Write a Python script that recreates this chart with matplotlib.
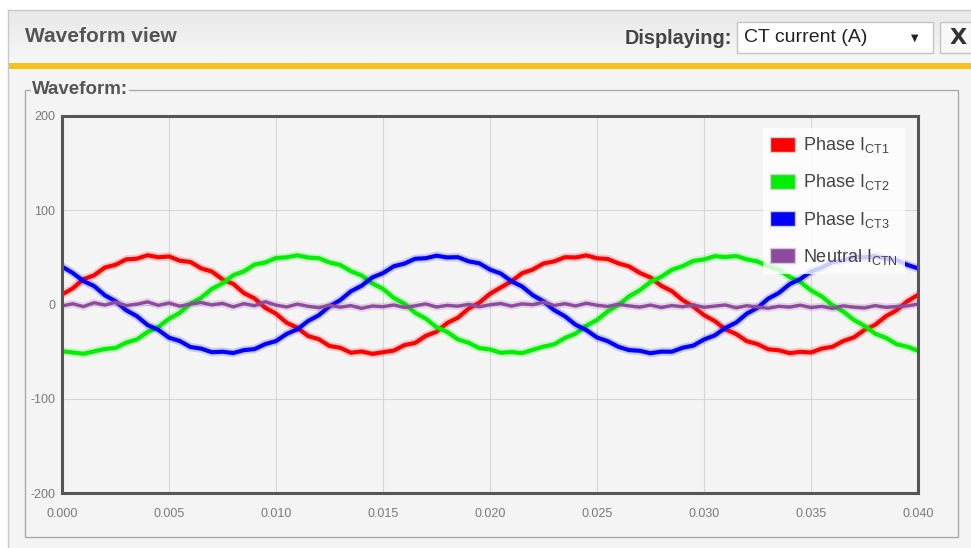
import numpy as np
import matplotlib
matplotlib.use('Agg')
import matplotlib.pyplot as plt
from matplotlib.patches import Rectangle, Patch
from matplotlib import font_manager
import matplotlib.patheffects as pe

# sample times (s), one sample every 0.5 ms
t = np.linspace(0.0, 0.040, 81)

# CT currents (A)
i_ct1 = [10.6, 17.1, 26.8, 31.0, 39.2, 42.1, 47.9, 48.6, 52.3, 50.1, 51.0, 46.5, 45.1, 38.4, 35.0, 26.6, 21.9, 12.1, 6.4, -3.5,
         -9.8, -19.4, -24.7, -33.5, -36.8, -44.0, -45.9, -51.2, -49.8, -52.4, -50.6, -48.9, -43.1, -40.8, -33.2, -28.9, -19.6, -14.0, -4.4, 1.9,
         11.4, 18.0, 24.6, 33.2, 37.1, 43.5, 45.8, 50.2, 49.9, 52.1, 49.0, 48.3, 43.6, 40.4, 33.5, 28.6, 19.9, 14.1, 4.6, -2.1,
         -11.3, -17.5, -26.4, -31.3, -38.9, -42.0, -47.5, -48.6, -51.6, -50.2, -50.9, -46.8, -44.9, -38.8, -34.9, -27.0, -21.5, -12.4, -6.1, 3.4,
         10.2]
i_ct2 = [-49.6, -50.9, -52.3, -49.7, -47.2, -46.1, -40.5, -37.0, -29.1, -24.0, -15.1, -8.9, 0.8, 7.2, 16.5, 22.4, 31.1, 35.2, 42.4, 44.6,
         49.3, 50.1, 52.2, 49.8, 49.1, 44.6, 42.0, 35.3, 30.8, 22.4, 16.6, 7.1, 0.9, -8.8, -15.0, -24.1, -29.2, -37.0, -40.6, -46.3,
         -47.7, -51.2, -50.4, -51.6, -48.0, -44.7, -42.2, -35.5, -30.9, -22.5, -16.4, -7.3, -0.6, 8.7, 15.1, 24.0, 29.3, 36.9, 40.7, 46.2,
         47.8, 51.3, 50.3, 51.5, 47.9, 45.6, 40.6, 36.8, 29.2, 23.9, 15.0, 8.6, -0.7, -7.4, -16.3, -22.7, -31.0, -35.4, -42.1, -44.8,
         -49.0]
i_ct3 = [40.2, 33.5, 24.9, 19.6, 9.8, 3.5, -6.1, -12.4, -21.8, -26.9, -35.2, -38.7, -45.1, -46.8, -50.6, -50.1, -51.5, -48.4, -47.3, -42.0,
         -38.8, -31.2, -26.3, -17.5, -11.4, -1.9, 4.6, 14.0, 19.9, 28.7, 33.3, 40.5, 43.4, 48.5, 49.1, 51.8, 49.9, 50.2, 45.8, 43.7,
         37.0, 32.9, 24.7, 19.1, 9.9, 3.4, -6.0, -12.5, -21.5, -27.1, -35.0, -38.9, -44.9, -48.4, -49.1, -51.7, -50.0, -50.1, -45.9, -43.6,
         -37.1, -32.8, -24.8, -19.2, -9.7, -3.5, 6.2, 12.3, 21.6, 27.0, 34.9, 39.0, 45.0, 46.8, 50.7, 50.0, 51.4, 48.5, 47.2, 42.1,
         38.3]
i_ctn = [-1.5, 0.8, -2.2, 1.9, -0.6, 2.4, -1.1, 0.3, 2.8, -0.9, 1.6, -1.8, 0.5, 2.1, -0.4, 1.2, -2.5, 0.9, -1.3, 3.0,
         -0.7, -2.6, 0.4, -1.9, -3.4, -0.8, -2.9, -1.2, -4.1, -1.6, -2.3, -0.5, -3.1, -1.4, 0.6, -2.7, -0.9, -1.8, 0.2, -2.4,
         -0.3, 1.1, -1.7, 0.7, -0.2, 2.5, -1.0, 0.9, -1.6, 1.4, -0.8, -2.1, 0.3, -1.5, -2.8, -0.6, -3.2, -1.1, -2.4, -0.4,
         -3.0, -1.7, -0.5, -3.6, -1.3, -2.6, -4.0, -1.9, -2.8, -0.7, -3.3, -2.0, -4.2, -1.4, -2.9, -3.7, -1.2, -3.1, -2.2, -1.5,
         0.4]

labels = ['Phase I$_{\\mathregular{CT1}}$', 'Phase I$_{\\mathregular{CT2}}$',
          'Phase I$_{\\mathregular{CT3}}$', 'Neutral I$_{\\mathregular{CTN}}$']
colors = ['#ff0000', '#00ee00', '#0000ff', '#8e4a9e']
x_ticks = [0.000, 0.005, 0.010, 0.015, 0.020, 0.025, 0.030, 0.035, 0.040]
y_ticks = [-200, -100, 0, 100, 200]

names = {f.name for f in font_manager.fontManager.ttflist}
narrow = 'Liberation Sans Narrow' if 'Liberation Sans Narrow' in names else 'Liberation Sans'
plt.rcParams['font.family'] = ['Liberation Sans', 'DejaVu Sans']
plt.rcParams['mathtext.fontset'] = 'custom'
plt.rcParams['mathtext.rm'] = 'Liberation Sans'

W, H = 971, 548
fig = plt.figure(figsize=(W / 100, H / 100), dpi=100, facecolor='white')

# page furniture, drawn in pixel coordinates
bg = fig.add_axes([0, 0, 1, 1], zorder=-5)
bg.set_xlim(0, W)
bg.set_ylim(H, 0)
bg.axis('off')
grad = np.linspace(0, 1, 50).reshape(-1, 1)
bg.imshow(grad, extent=[8, W, 63, 10], cmap=matplotlib.colors.LinearSegmentedColormap.from_list('h', ['#e8e8e8', '#f7f7f7']),
          aspect='auto', zorder=0)
bg.plot([8, W], [10, 10], color='#c9c9c9', lw=1)
bg.plot([8, 8], [10, H], color='#c9c9c9', lw=1)
bg.add_patch(Rectangle((8, 63), W - 8, 6, facecolor='#f5c11a', edgecolor='none', zorder=1))
bg.add_patch(Rectangle((8.5, 69), W - 8, H - 69, facecolor='#f4f4f4', edgecolor='none', zorder=1))
bg.add_patch(Rectangle((25, 90), 933, 447, facecolor='none', edgecolor='#a9a9a9', lw=1, zorder=2))
bg.text(32, 90, 'Waveform:', fontsize=13.5, fontweight='bold', color='#555555', family=narrow,
        va='center', ha='left', zorder=3,
        bbox=dict(facecolor='#f4f4f4', edgecolor='none', pad=1.0))
bg.text(25, 37, 'Waveform view', fontsize=15, fontweight='bold', color='#555555', family=narrow,
        va='center', ha='left', zorder=3)
bg.text(732, 38, 'Displaying:', fontsize=14.3, fontweight='bold', color='#444444', family=narrow,
        va='center', ha='right', zorder=3)
bg.add_patch(Rectangle((737, 22), 196, 31, facecolor='white', edgecolor='#c4c4c4', lw=1, zorder=2))
bg.text(744, 38, 'CT current (A)', fontsize=14, color='#222222', family=narrow, va='center', ha='left', zorder=3)
bg.text(915, 38, '\u25bc', fontsize=7, color='#222222', family='DejaVu Sans', va='center', ha='center', zorder=3)
bg.add_patch(Rectangle((940, 22), 40, 31, facecolor='#f8f8f8', edgecolor='#c4c4c4', lw=1, zorder=2))
bg.text(958, 38, 'X', fontsize=16, fontweight='bold', color='#333333', family='DejaVu Sans',
        va='center', ha='center', zorder=3)

# chart
x0, x1, y0, y1 = 62, 918, 116, 493
ax = fig.add_axes([x0 / W, 1 - y1 / H, (x1 - x0) / W, (y1 - y0) / H])
ax.set_facecolor('#f4f4f4')
series = [i_ct1, i_ct2, i_ct3, i_ctn]
for vals, c in zip(series, colors):
    lw = 2.4 if c == '#8e4a9e' else 3.0
    ax.plot(t, vals, color=c, lw=lw, solid_joinstyle='round',
            path_effects=[pe.Stroke(linewidth=lw + 3, foreground=c, alpha=0.18), pe.Normal()])

ax.set_xlim(0, 0.040)
ax.set_ylim(-200, 200)
ax.set_xticks(x_ticks)
ax.set_xticklabels([f'{v:.3f}' for v in x_ticks])
ax.set_yticks(y_ticks)
ax.set_yticklabels([str(v) for v in y_ticks])
ax.grid(True, color='#d6d6d6', lw=0.8)
ax.set_axisbelow(True)
ax.tick_params(length=0, labelsize=9, labelcolor='#7a7a7a')
ax.tick_params(axis='x', pad=11)
ax.tick_params(axis='y', pad=5)
for lab in ax.get_xticklabels() + ax.get_yticklabels():
    lab.set_family(narrow)
for s in ax.spines.values():
    s.set_color('#555555')
    s.set_linewidth(2.2)

handles = [Patch(facecolor=c, edgecolor='#cfcfcf', lw=1) for c in colors]
leg = ax.legend(handles, labels, loc='upper right', bbox_to_anchor=(0.985, 0.968),
                fontsize=13, labelcolor='#444444', frameon=True, fancybox=False,
                handlelength=1.35, handleheight=0.9, handletextpad=0.45, labelspacing=0.95,
                borderpad=0.4, borderaxespad=0)
leg.get_frame().set_facecolor('white')
leg.get_frame().set_alpha(0.8)
leg.get_frame().set_edgecolor('none')

fig.savefig('out.png', dpi=100, facecolor='white')
